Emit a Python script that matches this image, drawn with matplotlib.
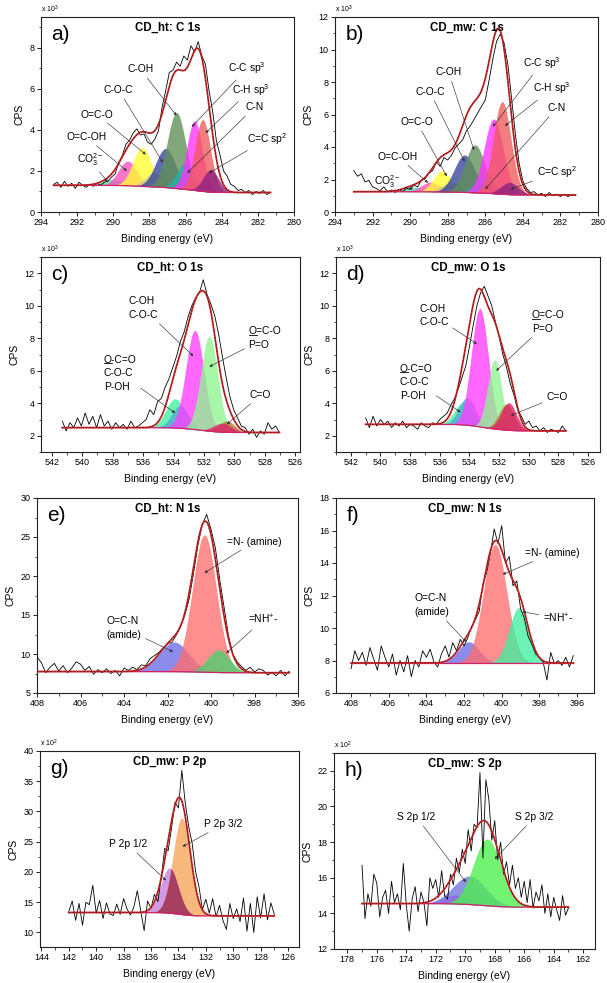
import numpy as np
import matplotlib
matplotlib.use('Agg')
import matplotlib.pyplot as plt
from matplotlib.ticker import MultipleLocator
from matplotlib.lines import Line2D
from matplotlib.text import Text

plt.rcParams['font.family'] = ['Liberation Sans', 'DejaVu Sans']
plt.rcParams['mathtext.fontset'] = 'custom'
plt.rcParams['mathtext.rm'] = 'Liberation Sans'
plt.rcParams['mathtext.it'] = 'Liberation Sans:italic'
plt.rcParams['mathtext.bf'] = 'Liberation Sans:bold'

# ------------------------------------------------------------------ data
# a) CD_ht: C 1s   (CPS x 10^3)
a_start, a_step = 293.3, 0.2
a_raw = [1.35, 1.45, 1.20, 1.50, 1.25, 1.40, 1.15, 1.45, 1.30, 1.20, 1.35, 1.25, 1.40, 1.30, 1.45, 1.50, 1.70,
         1.85, 2.40, 2.75, 3.30, 3.50, 3.85, 4.05, 3.75, 3.80, 3.40, 3.30, 3.55, 3.95, 5.10, 5.90, 6.80, 6.90,
         7.30, 7.10, 7.60, 7.40, 8.10, 7.80, 8.30, 7.60, 7.20, 5.90, 4.90, 3.50, 2.80, 2.00, 1.75, 1.35, 1.25,
         1.05, 1.10, 0.95, 1.05, 0.85, 1.00, 0.90, 1.05, 0.85, 0.95]
a_bg = [1.30, 0.95]
a_center = [290.0, 289.2, 288.4, 287.7, 287.1, 286.5, 286.0, 285.5, 285.05, 284.6]
a_height = [0.30, 1.20, 1.90, 0.70, 1.90, 3.70, 1.30, 3.40, 3.50, 1.10]
a_fwhm = [1.4, 1.2, 1.2, 1.2, 1.3, 1.2, 1.1, 1.0, 1.0, 1.0]

# b) CD_mw: C 1s   (CPS x 10^3)
b_start, b_step = 293.0, 0.2
b_raw = [2.55, 2.20, 2.35, 1.85, 1.95, 1.55, 1.45, 1.30, 1.55, 1.25, 1.35, 1.20, 1.40, 1.25, 1.45, 1.40, 1.65,
         1.55, 1.95, 2.05, 2.40, 2.55, 3.10, 2.80, 3.35, 3.20, 3.50, 3.95, 4.20, 4.45, 5.00, 5.30, 5.70, 6.10,
         6.50, 6.90, 8.10, 9.40, 10.50, 10.95, 10.40, 9.10, 7.00, 4.80, 3.00, 1.90, 1.45, 1.20, 1.25, 1.05,
         1.15, 0.95, 1.20, 1.00, 1.10, 0.95, 1.10, 0.95, 1.05, 1.00]
b_bg = [1.25, 1.05]
b_center = [289.8, 288.9, 288.3, 287.8, 287.1, 286.55, 286.0, 285.55, 285.1, 284.7]
b_height = [0.30, 0.60, 1.30, 0.60, 2.30, 2.95, 1.00, 4.60, 5.70, 0.75]
b_fwhm = [1.3, 1.2, 1.1, 1.2, 1.3, 1.25, 1.2, 1.2, 1.1, 1.1]

c1s_labels = ['CO$_3^{2\u2212}$', 'O=C-OH', 'O=C-O', '', 'C-O-C', 'C-OH', 'C-N', 'C-C sp$^3$', 'C-H sp$^3$', 'C=C sp$^2$']

# c) CD_ht: O 1s   (CPS x 10^3)
c_start, c_step = 541.3, 0.25
c_raw = [2.9, 2.3, 2.8, 2.5, 3.1, 2.6, 3.4, 2.7, 3.2, 2.5, 3.3, 2.6, 2.9, 2.4, 2.8, 2.5, 2.7, 2.4, 2.9, 2.5,
         2.6, 2.8, 3.0, 3.6, 3.3, 4.1, 4.3, 5.0, 5.5, 6.2, 6.9, 7.8, 8.4, 9.3, 10.0, 10.5, 10.8, 11.6, 10.7,
         10.1, 9.4, 8.3, 6.9, 5.6, 4.4, 3.6, 3.1, 2.6, 2.5, 2.1, 2.4, 1.9, 2.3, 2.1, 2.8, 2.4, 2.6, 2.2]
c_bg = [2.50, 2.20]
c_center = [533.9, 533.55, 532.6, 531.65, 530.5, 530.8]
c_height = [1.80, 1.40, 6.10, 5.85, 0.70, 0.55]
c_fwhm = [1.4, 1.3, 1.4, 1.3, 1.2, 1.4]

# d) CD_mw: O 1s   (CPS x 10^3)
d_start, d_step = 541.0, 0.25
d_raw = [3.1, 2.5, 3.2, 2.6, 3.0, 2.7, 2.9, 2.5, 2.8, 2.6, 2.9, 2.5, 2.7, 2.6, 2.4, 2.8, 2.6, 2.5, 2.8, 2.7,
         3.0, 3.2, 3.4, 3.9, 4.3, 4.9, 5.6, 6.3, 7.5, 8.8, 10.0, 10.8, 11.2, 10.6, 10.0, 9.0, 8.1, 7.0, 6.2,
         5.2, 4.5, 3.6, 3.2, 2.7, 2.9, 2.5, 2.6, 2.3, 2.5, 2.2, 2.4, 2.3, 2.2, 2.6, 2.3]
d_bg = [2.70, 2.30]
d_center = [534.4, 534.15, 533.3, 532.3, 531.5, 531.35]
d_height = [1.40, 1.70, 7.30, 4.25, 1.60, 1.70]
d_fwhm = [1.4, 1.3, 1.35, 1.1, 1.2, 1.2]

o1s_labels = ['O-C=O\nC-O-C\nP-OH', 'C-OH\nC-O-C', 'O=C-O\nP=O', 'C=O']

# e) CD_ht: N 1s   (CPS)
e_start, e_step = 408.0, 0.2
e_raw = [9.6, 8.9, 7.6, 8.3, 8.8, 7.8, 8.5, 7.6, 8.2, 9.0, 8.7, 7.9, 8.4, 7.4, 8.0, 7.6, 8.1, 7.5, 7.9, 7.2,
         8.2, 7.9, 8.3, 8.0, 8.6, 8.5, 9.4, 9.8, 10.2, 10.8, 11.3, 11.5, 12.4, 13.5, 15.0, 17.1, 20.4, 24.0,
         26.6, 27.9, 26.0, 23.6, 19.6, 16.0, 12.4, 10.0, 9.0, 8.4, 7.9, 8.3, 7.7, 8.1, 7.9, 7.3, 7.6, 7.2,
         7.9, 7.2, 7.8]
e_bg = [7.75, 7.60]
e_center = [401.7, 400.3, 399.65]
e_height = [3.8, 17.6, 2.9]
e_fwhm = [1.6, 1.3, 1.2]

# f) CD_mw: N 1s   (CPS)
f_start, f_step = 408.0, 0.2
f_raw = [7.5, 8.6, 8.0, 8.5, 7.7, 8.8, 8.1, 7.4, 8.9, 8.2, 7.6, 8.4, 7.1, 8.0, 7.3, 8.3, 7.0, 8.0, 7.6, 8.6,
         8.2, 8.7, 7.9, 7.6, 8.4, 8.9, 8.2, 9.1, 8.6, 9.3, 8.9, 9.4, 10.1, 10.5, 11.0, 12.7, 13.4, 14.6,
         16.1, 15.2, 16.3, 14.0, 14.4, 12.6, 12.9, 11.2, 10.6, 9.5, 9.0, 8.4, 8.2, 7.9, 6.8, 8.5, 7.8, 8.0,
         7.7, 8.2, 7.6, 8.3]
f_bg = [7.85, 7.85]
f_center = [401.75, 400.35, 399.1]
f_height = [1.3, 7.3, 3.4]
f_fwhm = [1.3, 1.45, 1.2]

n1s_labels = ['O=C-N\n(amide)', '=N- (amine)', '=NH$^{+}$-']

# g) CD_mw: P 2p   (CPS x 10^2)
g_start, g_step = 142.0, 0.25
g_raw = [13.5, 15.2, 12.0, 14.8, 11.2, 15.0, 14.6, 17.8, 13.2, 15.3, 12.3, 14.9, 13.1, 12.8, 14.7, 13.0,
         15.6, 13.9, 12.9, 14.2, 16.9, 13.6, 10.3, 15.2, 14.0, 16.3, 15.1, 19.1, 23.9, 23.5, 27.3, 31.5,
         30.6, 36.8, 31.4, 27.5, 24.8, 20.1, 17.6, 13.8, 15.5, 13.2, 15.6, 12.6, 14.5, 12.0, 10.5, 14.8,
         12.3, 13.9, 11.8, 15.7, 10.2, 14.8, 10.0, 15.9, 12.4, 16.4, 12.1, 14.9, 13.0]
g_bg = [13.3, 12.75]
g_center = [134.65, 133.75]
g_height = [7.5, 16.0]
g_fwhm = [1.5, 1.5]

# h) CD_mw: S 2p   (CPS x 10^2)
h_start, h_step = 177.0, 0.2
h_raw = [16.7, 13.7, 15.1, 14.4, 16.2, 15.7, 13.8, 14.9, 15.3, 14.0, 15.8, 14.6, 15.1, 14.2, 16.8, 14.5,
         13.0, 14.8, 15.5, 14.1, 15.2, 14.6, 13.3, 16.0, 15.4, 15.9, 14.9, 16.4, 15.0, 14.8, 16.2, 15.6,
         17.1, 16.3, 17.6, 16.8, 18.7, 17.5, 19.0, 18.8, 21.9, 17.1, 21.5, 20.4, 18.1, 19.2, 17.0, 18.0,
         16.2, 16.9, 15.6, 16.7, 15.4, 16.0, 14.9, 15.8, 14.6, 15.9, 14.3, 15.2, 14.7, 15.6, 14.0, 15.1,
         13.8, 14.9, 14.2, 13.6, 15.0, 13.9, 14.3]
h_bg = [14.55, 14.35]
h_center = [170.6, 169.7, 168.5]
h_height = [0.5, 1.6, 3.75]
h_fwhm = [2.0, 2.6, 2.2]

# ------------------------------------------------------------------ styles
C1S_COLORS = ['#55e0a8', '#ff4fc0', '#ffff30', '#c8c49a', '#34449a', '#5f8f55', '#20b4a4',
              '#ff30ff', '#f25a5a', '#8a1e7e']
O1S_COLORS = ['#3ff0a0', '#52a8d6', '#ff3cff', '#90f590', '#b8742e', '#e0206c']
N1S_COLORS_E = ['#6a6ae6', '#ff6e6e', '#4cd070']
N1S_COLORS_F = ['#6a6ae6', '#ff6e6e', '#40f0a0']
P2P_COLORS = ['#c27ee0', '#f4a458']
S2P_COLORS = ['#e64ae6', '#7474dc', '#4cf04c']

W, H = 607, 983
fig = plt.figure(figsize=(W / 100, H / 100), dpi=100)
underlined = []


def box(l, t, r, b):
    return [l / W, 1 - b / H, (r - l) / W, (b - t) / H]


def gauss(x, c, h, w):
    return h * np.exp(-4 * np.log(2) * (x - c) ** 2 / w ** 2)


def draw(ax, start, step, raw, bg_ends, centers, heights, fwhms, colors, alpha=0.78, overlap=None):
    x_raw = start - step * np.arange(len(raw))
    xf = np.linspace(x_raw[0], x_raw[-1], 900)
    comps = [gauss(xf, c, h, w) for c, h, w in zip(centers, heights, fwhms)]
    total = np.sum(comps, axis=0)
    cum = np.cumsum(total[::-1])[::-1]
    bg = bg_ends[1] + (bg_ends[0] - bg_ends[1]) * cum / cum[0]
    for comp, col in zip(comps, colors):
        ax.fill_between(xf, bg, bg + comp, color=col, alpha=alpha, lw=0, zorder=2)
    if overlap is not None:
        i, j, col = overlap
        ax.fill_between(xf, bg, bg + np.minimum(comps[i], comps[j]), color=col, alpha=0.85, lw=0, zorder=2)
    ax.plot(x_raw, raw, color='black', lw=0.6, zorder=3)
    ax.plot(xf, bg, color='#d0206a', lw=0.9, zorder=4)
    ax.plot(xf, bg + total, color='#d02828', lw=1.3, zorder=4)
    ax.plot(xf, bg + total, color='#301010', lw=0.4, ls=(0, (3, 3)), zorder=5)


def style(ax, xlim, xmaj, ylim, ymaj, letter, title, mult=None, letter_x=0.04):
    ax.set_xlim(*xlim)
    ax.set_ylim(*ylim)
    ax.xaxis.set_major_locator(MultipleLocator(xmaj))
    ax.xaxis.set_minor_locator(MultipleLocator(xmaj / 2))
    ax.yaxis.set_major_locator(MultipleLocator(ymaj))
    ax.yaxis.set_minor_locator(MultipleLocator(ymaj / 2))
    ax.tick_params(which='major', direction='out', length=3, width=0.6, labelsize=6.5, pad=1.5,
                   top=False, right=False)
    ax.tick_params(which='minor', direction='out', length=1.8, width=0.5, top=False, right=False)
    for s in ax.spines.values():
        s.set_linewidth(0.8)
        s.set_color('#222222')
    ax.set_xlabel('Binding energy (eV)', fontsize=7.5, labelpad=5)
    ax.set_ylabel('CPS', fontsize=7.5, labelpad=4)
    ax.text(0.5, 0.945, title, transform=ax.transAxes, ha='center', va='center',
            fontsize=8.3, fontweight='bold', zorder=6)
    ax.text(letter_x, 0.912, letter, transform=ax.transAxes, ha='left', va='center',
            fontsize=15, zorder=6)
    if mult:
        ax.text(0.0, 1.008, mult, transform=ax.transAxes, ha='left', va='bottom', fontsize=5)


def annot(ax, items, underline_first=()):
    for k, (text, xy, xytext) in enumerate(items):
        a = ax.annotate(text, xy=xy, xytext=xytext, fontsize=7.4, ha='center', va='center', zorder=7,
                        linespacing=1.45, multialignment='left',
                        arrowprops=dict(arrowstyle='-|>', color='#333333', lw=0.45, mutation_scale=4,
                                        shrinkA=1, shrinkB=0))
        if k in underline_first:
            underlined.append(a)


# a
ax = fig.add_axes(box(41, 17, 294, 212))
draw(ax, a_start, a_step, a_raw, a_bg, a_center, a_height, a_fwhm, C1S_COLORS)
style(ax, (294, 280), 2, (0, 9.5), 2, 'a)', 'CD_ht: C 1s', 'x 10$^3$')
annot(ax, [(c1s_labels[0], (290.3, 1.45), (291.3, 2.55)),
           (c1s_labels[1], (289.25, 2.0), (291.5, 3.65)),
           (c1s_labels[2], (288.2, 2.8), (290.9, 4.75)),
           (c1s_labels[4], (287.25, 2.4), (289.7, 5.95)),
           (c1s_labels[5], (286.5, 4.7), (288.5, 6.95)),
           (c1s_labels[7], (285.65, 4.15), (282.6, 7.0)),
           (c1s_labels[8], (284.9, 3.85), (282.4, 5.95)),
           (c1s_labels[6], (285.9, 1.9), (282.2, 5.1)),
           (c1s_labels[9], (284.7, 1.9), (281.5, 3.55))])

# b
ax = fig.add_axes(box(335, 17, 598, 212))
draw(ax, b_start, b_step, b_raw, b_bg, b_center, b_height, b_fwhm, C1S_COLORS)
style(ax, (294, 280), 2, (0, 12), 2, 'b)', 'CD_mw: C 1s', 'x 10$^3$')
annot(ax, [(c1s_labels[0], (289.85, 1.4), (291.2, 1.85)),
           (c1s_labels[1], (289.05, 1.8), (290.65, 3.4)),
           (c1s_labels[2], (288.05, 2.2), (289.65, 5.55)),
           (c1s_labels[4], (287.1, 3.1), (288.95, 7.4)),
           (c1s_labels[5], (286.6, 3.8), (287.95, 8.6)),
           (c1s_labels[7], (285.6, 5.25), (283.0, 9.15)),
           (c1s_labels[8], (284.95, 5.3), (282.45, 7.6)),
           (c1s_labels[6], (286.0, 1.4), (282.2, 6.4)),
           (c1s_labels[9], (284.65, 1.4), (282.2, 2.45))])

# c
ax = fig.add_axes(box(41, 257, 300, 452))
draw(ax, c_start, c_step, c_raw, c_bg, c_center, c_height, c_fwhm, O1S_COLORS)
style(ax, (542.7, 525.7), 2, (1, 13), 2, 'c)', 'CD_ht: O 1s', 'x 10$^3$')
annot(ax, [(o1s_labels[1], (532.7, 6.9), (536.0, 9.85)),
           (o1s_labels[2], (531.65, 6.25), (528.0, 8.0)),
           (o1s_labels[0], (533.9, 3.4), (537.5, 5.85)),
           (o1s_labels[3], (530.5, 2.7), (528.3, 4.5))], underline_first=(1, 2))

# d
ax = fig.add_axes(box(336, 257, 600, 452))
draw(ax, d_start, d_step, d_raw, d_bg, d_center, d_height, d_fwhm, O1S_COLORS)
style(ax, (543, 525.2), 2, (1, 13), 2, 'd)', 'CD_mw: O 1s', 'x 10$^3$')
annot(ax, [(o1s_labels[1], (533.5, 7.65), (536.4, 9.4)),
           (o1s_labels[2], (532.2, 6.0), (528.7, 9.0)),
           (o1s_labels[0], (534.6, 3.45), (537.6, 5.3)),
           (o1s_labels[3], (531.2, 3.25), (528.1, 4.4))], underline_first=(1, 2))

# e
ax = fig.add_axes(box(37, 498, 298, 693))
draw(ax, e_start, e_step, e_raw, e_bg, e_center, e_height, e_fwhm, N1S_COLORS_E)
style(ax, (408, 396), 2, (5, 30), 5, 'e)', 'CD_ht: N 1s')
annot(ax, [(n1s_labels[1], (400.3, 20.4), (398.0, 24.4)),
           (n1s_labels[0], (401.75, 10.3), (404.0, 13.3)),
           (n1s_labels[2], (399.3, 10.1), (397.6, 14.4))])

# f
ax = fig.add_axes(box(336, 498, 594, 693))
draw(ax, f_start, f_step, f_raw, f_bg, f_center, f_height, f_fwhm, N1S_COLORS_F)
style(ax, (408.8, 395.1), 2, (6, 18), 2, 'f)', 'CD_mw: N 1s')
annot(ax, [(n1s_labels[1], (399.95, 13.3), (397.3, 14.6)),
           (n1s_labels[0], (401.9, 9.15), (403.7, 11.4)),
           (n1s_labels[2], (398.9, 11.0), (397.0, 10.6))])

# g
ax = fig.add_axes(box(40, 751, 299, 947))
draw(ax, g_start, g_step, g_raw, g_bg, g_center, g_height, g_fwhm, P2P_COLORS,
     overlap=(0, 1, '#9c2f5c'))
style(ax, (144.1, 125.2), 2, (7.6, 40), 5, 'g)', 'CD_mw: P 2p', 'x 10$^2$')
annot(ax, [('P 2p 1/2', (134.9, 18.6), (137.7, 24.6)),
           ('P 2p 3/2', (133.7, 24.2), (130.7, 27.9))])

# h
ax = fig.add_axes(box(334, 753, 595, 949))
draw(ax, h_start, h_step, h_raw, h_bg, h_center, h_height, h_fwhm, S2P_COLORS)
style(ax, (178.9, 161.2), 2, (12, 23), 2, 'h)', 'CD_mw: S 2p', 'x 10$^2$')
annot(ax, [('S 2p 1/2', (169.95, 15.75), (173.3, 19.4)),
           ('S 2p 3/2', (168.0, 17.05), (165.3, 19.4))])

# underline the first "O" of the flagged labels
fig.canvas.draw()
renderer = fig.canvas.get_renderer()
probe = fig.text(0, 0, 'O', fontsize=7.4)
o_box = probe.get_window_extent(renderer)
probe.remove()
for a in underlined:
    bb = Text.get_window_extent(a, renderer)
    y = bb.y1 - o_box.height + 1.2
    fig.add_artist(Line2D([bb.x0, bb.x0 + o_box.width], [y, y], transform=None,
                          color='black', lw=0.6, zorder=8))

fig.savefig('out.png', dpi=100)
